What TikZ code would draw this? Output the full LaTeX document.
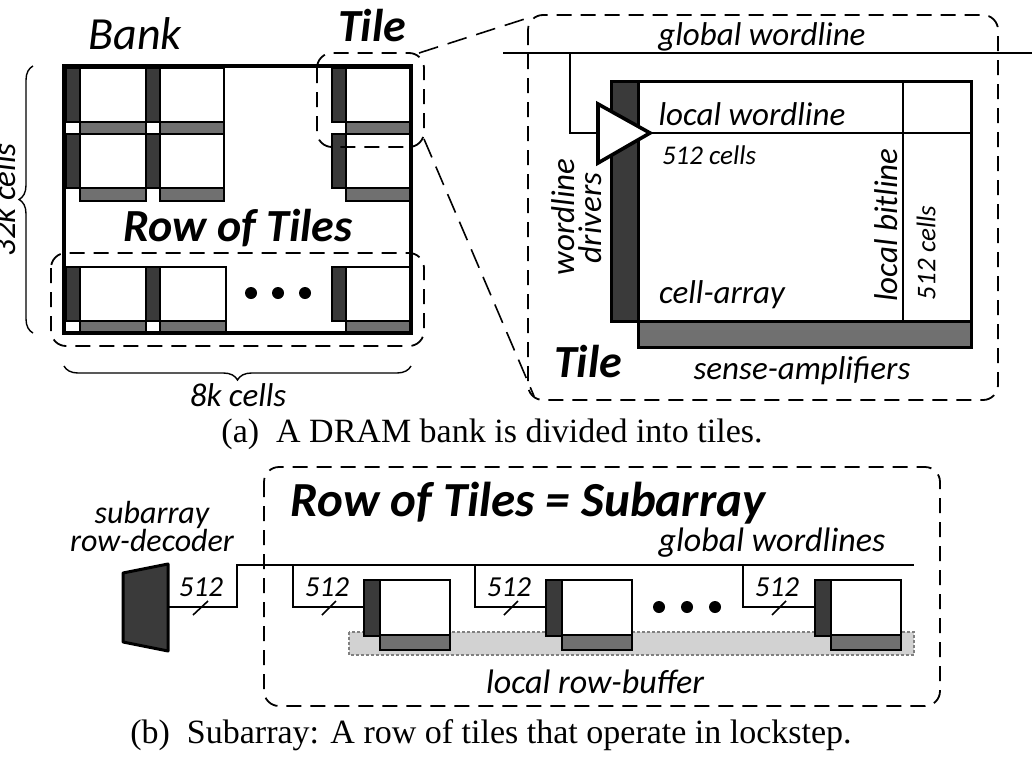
\documentclass[tikz,border=0pt]{standalone}
\usepackage{fontspec}
\setmainfont{Carlito}
\newfontfamily\captionserif{Liberation Serif}
\usetikzlibrary{positioning,calc,decorations.pathreplacing}
\definecolor{driverfill}{HTML}{3A3A3A}
\definecolor{ampfill}{HTML}{707070}
\definecolor{bufferfill}{HTML}{D2D2D2}
\tikzset{
  outline/.style={dash pattern=on 15pt off 9pt, line width=1.8pt, rounded corners=15pt},
  zoomline/.style={dash pattern=on 20pt off 10pt, line width=1.6pt},
  wire/.style={line width=1.6pt},
  cell/.style={draw, line width=2.1pt, fill=white, inner sep=0pt, anchor=north west},
  driver/.style={cell, fill=driverfill},
  amp/.style={cell, fill=ampfill},
  lbl/.style={font=\fontsize{33}{35}\selectfont\itshape, inner sep=0pt},
  small/.style={font=\fontsize{27}{28}\selectfont\itshape, inner sep=0pt},
  big/.style={font=\fontsize{46}{48}\selectfont\bfseries\itshape, inner sep=0pt},
  capt/.style={font=\fontsize{34}{36}\selectfont\captionserif, inner sep=0pt},
  curly/.style={decorate, decoration={brace, amplitude=14pt}, line width=1.4pt},
}
\begin{document}
\begin{tikzpicture}[x=1pt, y=-1pt]
  \useasboundingbox (0,0) rectangle (1032,771);

  % Bank with its grid of tiles
  \foreach \n/\x/\y/\cw in {a/65/67/66, b/145/67/64, c/331/67/65,
                            d/65/133/66, e/145/133/64, f/331/133/65,
                            g/65/266/66, h/145/266/66, i/331/266/65} {
    \node[cell, minimum width=\cw pt, minimum height=54pt] (arr\n) at (\x+14,\y) {};
    \node[amp, minimum width=\cw pt, minimum height=13pt] (sa\n) at (\x+14,\y+54) {};
    \node[driver, minimum width=14pt, minimum height=54pt] (drv\n) at (\x,\y) {};
  }
  \draw[line width=3.2pt] (64,66) rectangle (411,333);
  \foreach \x in {251,278,305} {
    \fill (\x,293) circle (6pt);
  }

  % Groupings over the bank
  \draw[outline] (317,53) rectangle (424,147);
  \draw[outline] (51,253) rectangle (424,346);
  \coordinate (tiletop) at (419,53);
  \coordinate (tilebot) at (424,139);

  % Tile in detail
  \draw[outline] (528,15) rectangle (998,400);
  \coordinate (bigtop) at (531,17);
  \coordinate (bigbot) at (534,396);
  \draw[zoomline] (tiletop) -- (bigtop);
  \draw[zoomline] (tilebot) -- (bigbot);

  \node[amp, line width=3.2pt, minimum width=333pt, minimum height=26pt] (bigamp) at (637,320) {};
  \node[cell, line width=3.2pt, minimum width=333pt, minimum height=240pt] (bigarr) at (637,80) {};
  \node[driver, line width=3.2pt, minimum width=27pt, minimum height=240pt] (bigdrv) at (610,80) {};

  \coordinate (gwl0) at (503,53);
  \coordinate (gwl1) at (1032,53);
  \coordinate (tap) at (570,53);
  \coordinate (tapin) at (570,133);
  \coordinate (lwl) at (970,133);
  \coordinate (bit0) at (903,80);
  \coordinate (bit1) at (903,320);
  \draw[wire] (gwl0) -- (gwl1);
  \draw[wire] (bit0) -- (bit1);
  \draw[wire] (tap) -- (tapin) -- (lwl);
  \draw[line width=3.6pt, fill=white, line join=miter] (598,104) -- (650,133) -- (598,163) -- cycle;

  \node[lbl] (globalwl) at (762,37) {global wordline};
  \node[lbl] (localwl) at (752,114) {local wordline};
  \node[small] (cellsh) at (709,155) {512 cells};
  \node[lbl] (cellarr) at (722,295) {cell-array};
  \node[lbl, rotate=90] (localbl) at (886,225) {local bitline};
  \node[small, rotate=90] (cellsv) at (926,253) {512 cells};
  \node[lbl, rotate=90] (wldrv) at (563,217) {wordline};
  \node[lbl, rotate=90] (wldrv2) at (590,218) {drivers};
  \node[big] (tilebig) at (588,362) {Tile};
  \node[lbl] (senseamp) at (802,371) {sense-amplifiers};

  % Titles and extents of the bank
  \node[lbl, font=\fontsize{46}{48}\selectfont\itshape] (bank) at (135,34) {Bank};
  \node[big] (tilename) at (372,26) {Tile};
  \node[big] (rowname) at (238,228) {Row of Tiles};
  \draw[curly] (33,333) -- (33,66);
  \node[lbl, rotate=90] (height) at (4,200) {32k cells};
  \draw[curly] (411,366) -- (64,366);
  \node[lbl] (width) at (238,395) {8k cells};
  \node[capt] (capa) at (492,434) {(a)\hspace{0.5em}A DRAM bank is divided into tiles.};

  % Subarray
  \draw[outline] (264,467) rectangle (940,706);
  \node[big, font=\fontsize{49}{51}\selectfont\bfseries\itshape] (subname) at (528,503) {Row of Tiles = Subarray};
  \node[lbl, align=center, font=\fontsize{32}{28}\selectfont\itshape] (decname) at (152,526) {subarray\\row-decoder};
  \node[lbl, font=\fontsize{34}{36}\selectfont\itshape] (globalwls) at (772,543) {global wordlines};
  \node[lbl, font=\fontsize{34}{36}\selectfont\itshape] (rowbuf) at (595,682) {local row-buffer};

  \draw[densely dashed, gray, line width=1.2pt, fill=bufferfill] (349,632) rectangle (914,655);
  \draw[line width=3pt, fill=driverfill, line join=round] (123,573) -- (168,564) -- (168,651) -- (123,642) -- cycle;

  \coordinate (decout) at (168,607);
  \coordinate (riser0) at (237,607);
  \coordinate (riser1) at (237,565);
  \coordinate (busend) at (914,565);
  \draw[wire] (decout) -- (riser0) -- (riser1) -- (busend);
  \draw[wire] (193,615) -- (208,601);
  \node[small, font=\fontsize{29}{29}\selectfont\itshape] (w0) at (201,587) {512};

  \foreach \n/\tap/\x in {p/293/363, q/475/545, r/743/814} {
    \node[cell, minimum width=70pt, minimum height=55pt] (arr\n) at (\x+16,579) {};
    \node[amp, minimum width=70pt, minimum height=15pt] (sa\n) at (\x+16,634) {};
    \node[driver, minimum width=16pt, minimum height=56pt] (drv\n) at (\x,579) {};
    \draw[wire] (\tap,565) -- (\tap,607) -- (\x,607);
    \draw[wire] (\tap+29,615) -- (\tap+43,601);
    \node[small, font=\fontsize{29}{29}\selectfont\itshape] (w\n) at (\tap+34,587) {512};
  }
  \foreach \x in {659,687,715} {
    \fill (\x,607) circle (6pt);
  }
  \node[capt] (capb) at (491,735) {(b)\hspace{0.5em}Subarray: A row of tiles that operate in lockstep.};
\end{tikzpicture}
\end{document}
